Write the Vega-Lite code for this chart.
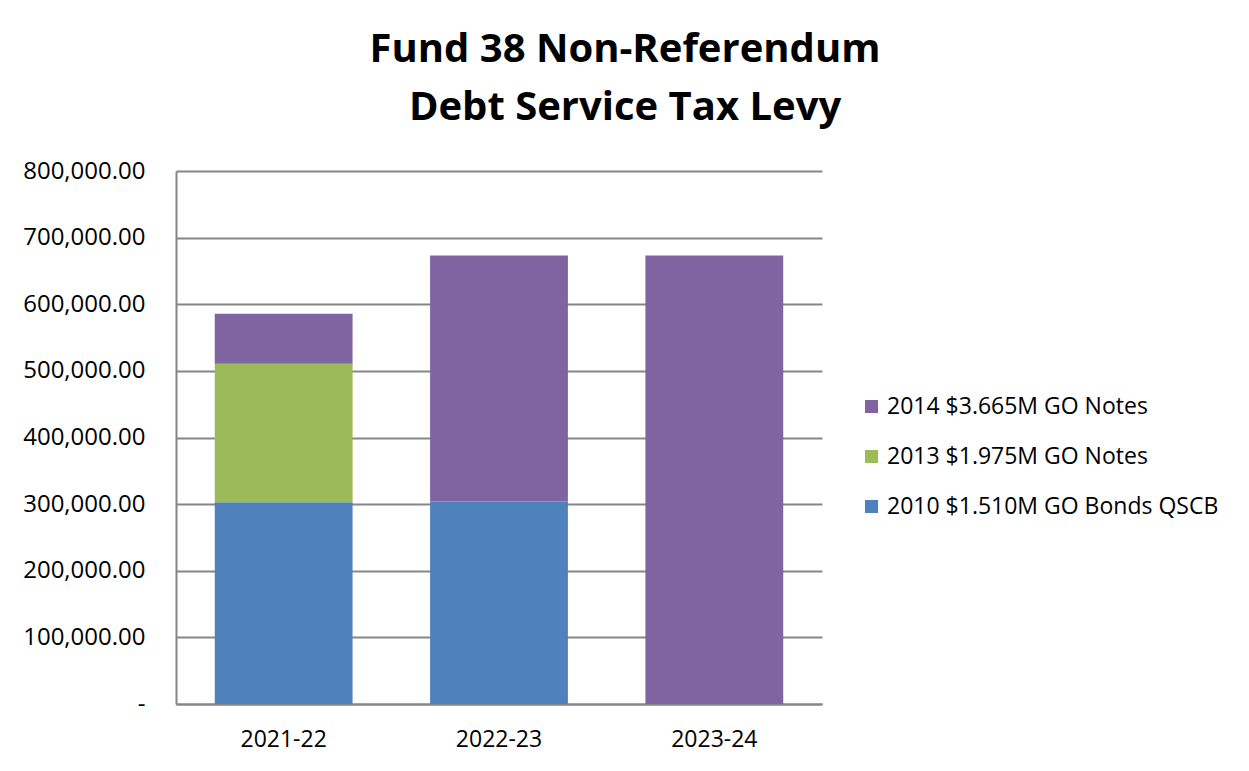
{
  "$schema": "https://vega.github.io/schema/vega-lite/v6.json",
  "description": "Fund 38 Non-Referendum Debt Service Tax Levy",
  "width": 646,
  "height": 533,
  "autosize": {"type": "none"},
  "padding": {"left": 176, "top": 171, "right": 427, "bottom": 67},
  "background": "white",
  "title": {
    "text": ["Fund 38 Non-Referendum", "Debt Service Tax Levy"],
    "font": "Open Sans",
    "fontSize": 40,
    "fontWeight": "bold",
    "color": "black",
    "anchor": "middle",
    "frame": "group",
    "dx": 126,
    "lineHeight": 58,
    "offset": 31
  },
  "data": {
    "values": [
      {"year": "2021-22", "series": "2010 $1.510M GO Bonds QSCB", "amount": 302800},
      {"year": "2021-22", "series": "2013 $1.975M GO Notes", "amount": 208000},
      {"year": "2021-22", "series": "2014 $3.665M GO Notes", "amount": 74900},
      {"year": "2022-23", "series": "2010 $1.510M GO Bonds QSCB", "amount": 303900},
      {"year": "2022-23", "series": "2014 $3.665M GO Notes", "amount": 369200},
      {"year": "2023-24", "series": "2014 $3.665M GO Notes", "amount": 673000}
    ]
  },
  "mark": {"type": "bar"},
  "encoding": {
    "x": {
      "field": "year",
      "type": "nominal",
      "title": null,
      "scale": {"paddingInner": 0.36, "paddingOuter": 0.18},
      "axis": {
        "labelAngle": 0,
        "ticks": false,
        "domainColor": "#868686",
        "domainWidth": 2,
        "labelPadding": 24,
        "labelFont": "Open Sans",
        "labelFontSize": 23,
        "labelColor": "black"
      }
    },
    "y": {
      "field": "amount",
      "type": "quantitative",
      "stack": "zero",
      "title": null,
      "scale": {"domain": [0, 800000], "nice": false},
      "axis": {
        "values": [0, 100000, 200000, 300000, 400000, 500000, 600000, 700000, 800000],
        "labelExpr": "datum.value == 0 ? '-' : format(datum.value, ',.2f')",
        "ticks": false,
        "grid": true,
        "gridColor": "#868686",
        "gridWidth": 2,
        "gridOpacity": 1,
        "domainColor": "#868686",
        "domainWidth": 2,
        "labelPadding": 31,
        "labelFont": "Open Sans",
        "labelFontSize": 24,
        "labelColor": "black",
        "encode": {
          "labels": {
            "update": {"dx": {"signal": "datum.value == 0 ? -12 : 0"}}
          }
        }
      }
    },
    "color": {
      "field": "series",
      "type": "nominal",
      "scale": {
        "domain": ["2014 $3.665M GO Notes", "2013 $1.975M GO Notes", "2010 $1.510M GO Bonds QSCB"],
        "range": ["#8064A2", "#9BBB59", "#4F81BD"]
      },
      "legend": {
        "title": null,
        "orient": "none",
        "legendX": 684,
        "legendY": 224,
        "symbolType": "square",
        "symbolSize": 169,
        "symbolStrokeWidth": 0,
        "labelFont": "Open Sans",
        "labelFontSize": 23,
        "labelColor": "black",
        "labelOffset": 4,
        "labelLimit": 400,
        "rowPadding": 26
      }
    },
    "order": {"field": "series", "sort": "ascending"}
  },
  "config": {
    "view": {"stroke": null}
  }
}
